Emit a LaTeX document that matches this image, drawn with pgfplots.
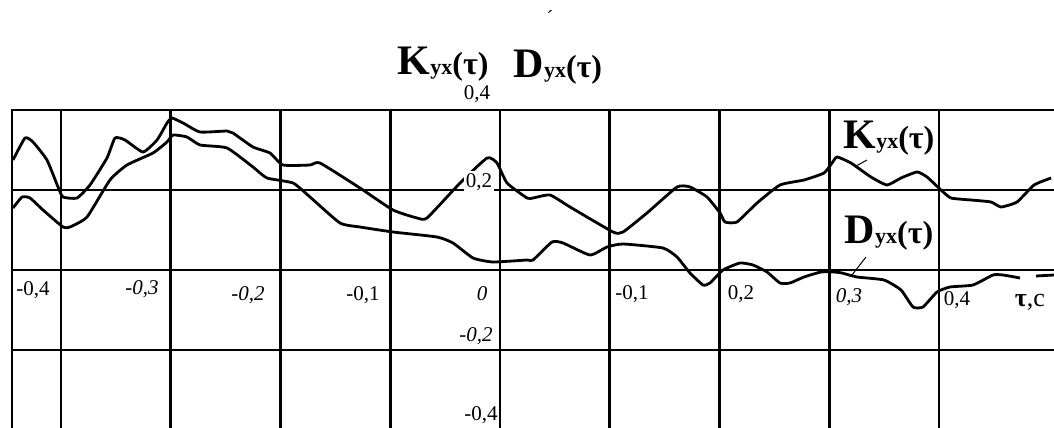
\documentclass[border=0pt]{standalone}
\usepackage{fontspec}
\setmainfont{Liberation Serif}
\usepackage{pgfplots}
\pgfplotsset{compat=1.18}

% function name with the small "yx" index, as in the original figure
\newcommand{\fname}[1]{{\bfseries\fontsize{21}{21}\selectfont #1}{\bfseries\fontsize{11}{11}\selectfont yx}{\bfseries\fontsize{16}{16}\selectfont(τ)}}
\newcommand{\tl}{\fontsize{10.5}{11}\selectfont}

\begin{document}
\begin{tikzpicture}
\begin{axis}[
  scale only axis,
  width=545.8pt, height=170pt,
  anchor=south west, at={(0,0)},
  xmin=-0.44465, xmax=0.55,
  ymin=-0.45, ymax=0.4,
  clip=false,
  xtick={-0.4,-0.3,-0.2,-0.1,0,0.1,0.2,0.3,0.4},
  ytick={-0.2,0,0.2},
  xticklabel=\empty, yticklabel=\empty,
  major tick length=0pt,
  grid=major,
  major grid style={black, line width=1.3pt},
  axis line style={black, line width=1.3pt},
]
% K_yx(tau)
\addplot[black, line width=1.4pt, line join=round, smooth, tension=0.3] coordinates {
(-0.4437,0.275) (-0.4328,0.33) (-0.4255,0.32) (-0.4128,0.275) (-0.4027,0.2075)
(-0.3982,0.1825) (-0.3854,0.18) (-0.3736,0.2125) (-0.3581,0.28) (-0.3508,0.33)
(-0.3417,0.325) (-0.3253,0.295) (-0.3125,0.325) (-0.3034,0.3675) (-0.2989,0.38)
(-0.2888,0.3675) (-0.2733,0.345) (-0.2487,0.3475) (-0.2433,0.3425) (-0.2251,0.3075)
(-0.2096,0.2925) (-0.1977,0.2625) (-0.1731,0.2625) (-0.1640,0.2675) (-0.1276,0.205)
(-0.0975,0.15) (-0.0756,0.13) (-0.0665,0.13) (-0.0364,0.2175) (-0.0118,0.28)
(-0.0027,0.2675) (0.0064,0.2175) (0.0246,0.18) (0.0301,0.18) (0.0456,0.1875)
(0.0638,0.1575) (0.1030,0.095) (0.1121,0.095) (0.1339,0.1425) (0.1613,0.2075)
(0.1731,0.2075) (0.1886,0.1825) (0.2005,0.1425) (0.2050,0.12) (0.2159,0.12)
(0.2342,0.1675) (0.2551,0.2125) (0.2770,0.225) (0.2952,0.2425) (0.3025,0.2675)
(0.3071,0.2825) (0.3198,0.2675) (0.3380,0.2325) (0.3526,0.2125) (0.3654,0.23)
(0.3800,0.245) (0.3891,0.2325) (0.4018,0.2) (0.4109,0.18) (0.4292,0.175)
(0.4474,0.17) (0.4565,0.1575) (0.4711,0.17) (0.4866,0.2125) (0.5021,0.23)
};
% D_yx(tau)
\addplot[black, line width=1.4pt, line join=round, smooth, tension=0.3] coordinates {
(-0.4437,0.155) (-0.4355,0.1825) (-0.4282,0.18) (-0.4164,0.15) (-0.3982,0.1075)
(-0.3918,0.1075) (-0.3763,0.1325) (-0.3554,0.225) (-0.3399,0.2625) (-0.3162,0.2925)
(-0.3034,0.32) (-0.2980,0.3375) (-0.2852,0.3325) (-0.2733,0.3125) (-0.2487,0.305)
(-0.2251,0.2575) (-0.2123,0.23) (-0.1886,0.2175) (-0.1731,0.1825) (-0.1458,0.1175)
(-0.1276,0.1075) (-0.0975,0.095) (-0.0574,0.0825) (-0.0428,0.0675) (-0.0246,0.03)
(-0.0064,0.02) (0.0246,0.025) (0.0301,0.025) (0.0474,0.07) (0.0574,0.0675)
(0.0820,0.0375) (0.0975,0.0575) (0.1121,0.065) (0.1485,0.055) (0.1613,0.0325)
(0.1731,-0.0075) (0.1850,-0.0375) (0.1913,-0.0325) (0.2032,0) (0.2187,0.0175)
(0.2305,0.0125) (0.2433,-0.005) (0.2551,-0.0325) (0.2642,-0.0325) (0.2770,-0.0175)
(0.2925,-0.005) (0.3043,-0.005) (0.3116,-0.0075) (0.3253,-0.0175) (0.3499,-0.025)
(0.3654,-0.05) (0.3763,-0.0925) (0.3854,-0.0925) (0.3982,-0.055) (0.4100,-0.0425)
(0.4310,-0.0375) (0.4492,-0.0125) (0.4583,-0.0125) (0.4738,-0.02)
};
\addplot[black, line width=1.4pt] coordinates {(0.4884,-0.015) (0.5048,-0.0125)};

% tau-axis labels
\node[font=\tl] at (axis cs:-0.4255,-0.05) {-0,4};
\node[font=\tl\itshape] at (axis cs:-0.3262,-0.0475) {-0,3};
\node[font=\tl\itshape] at (axis cs:-0.2296,-0.0625) {-0,2};
\node[font=\tl] at (axis cs:-0.1248,-0.0625) {-0,1};
\node[font=\tl\itshape] at (axis cs:-0.0164,-0.06) {0};
\node[font=\tl] at (axis cs:0.1203,-0.06) {-0,1};
\node[font=\tl] at (axis cs:0.2196,-0.06) {0,2};
\node[font=\tl\itshape] at (axis cs:0.318,-0.0675) {0,3};
\node[font=\tl] at (axis cs:0.4164,-0.075) {0,4};
\node[font=\fontsize{13}{13}\selectfont] at (axis cs:0.4829,-0.08) {\textbf{τ},c};
% ordinate labels
\node[font=\tl] at (axis cs:-0.021,0.44) {0,4};
\node[font=\tl, fill=white, inner sep=1pt] at (axis cs:-0.0191,0.22) {0,2};
\node[font=\tl\itshape, fill=white, inner sep=1pt] at (axis cs:-0.0219,-0.165) {-0,2};
\node[font=\tl] at (axis cs:-0.0173,-0.3625) {-0,4};

% heading
\node at (axis cs:-0.0519,0.515) {\fname{K}};
\node at (axis cs:0.0528,0.5075) {\fname{D}};
\node[font=\fontsize{10}{10}\selectfont] at (axis cs:0.0456,0.63) {´};

% curve captions with leaders
\node[fill=white, inner sep=1pt] at (axis cs:0.3544,0.33) {\fname{K}};
\node[fill=white, inner sep=1pt] at (axis cs:0.3544,0.0925) {\fname{D}};
\draw[black, line width=0.5pt] (axis cs:0.3344,0.275) -- (axis cs:0.3244,0.26);
\draw[black, line width=0.5pt] (axis cs:0.3335,0.0325) -- (axis cs:0.3207,-0.0125);

\coordinate (bbsw) at (axis cs:-0.45558,-0.3925);
\coordinate (bbne) at (axis cs:0.50478,0.675);
\end{axis}
\pgfresetboundingbox
\path[use as bounding box] (bbsw) rectangle (bbne);
\end{tikzpicture}
\end{document}
